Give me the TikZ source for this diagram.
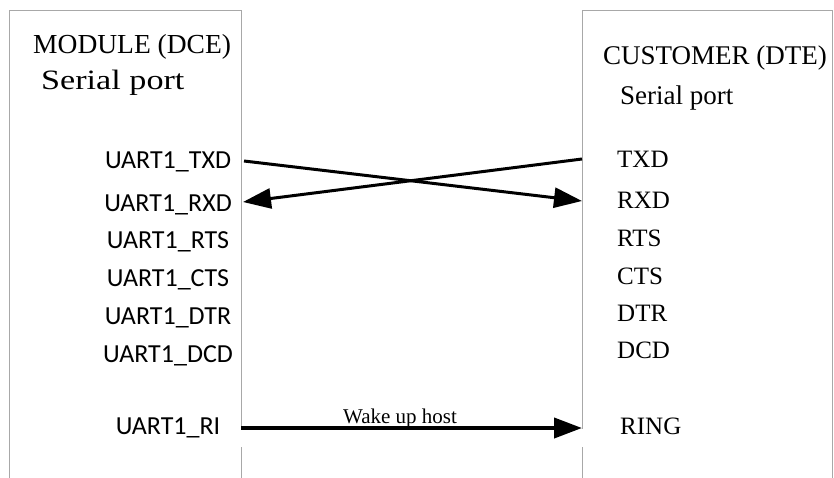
\documentclass[tikz,border=0pt]{standalone}
\usepackage{fontspec}
\setmainfont{Liberation Serif}
\newfontfamily\sansf{Carlito}
\usetikzlibrary{arrows.meta}
\definecolor{boxgray}{HTML}{A8A8A8}
\tikzset{
  boxline/.style={draw=boxgray, line width=1pt},
  titletext/.style={inner sep=0pt, anchor=base west, font=\fontsize{27.5}{30}\selectfont},
  lefttext/.style={inner sep=0pt, anchor=base, font=\sansf\fontsize{26}{28}\selectfont},
  righttext/.style={inner sep=0pt, anchor=base west, font=\fontsize{25}{28}\selectfont},
  sigarrow/.style={line width=3pt, -{Triangle[length=28pt,width=20pt]}},
}
\begin{document}
\begin{tikzpicture}[x=1pt,y=-1pt]
\useasboundingbox (0,0) rectangle (834,477);
% boxes (lines broken just below the wake-up arrow, as in the reference)
\draw[boxline] (241,429) -- (241,10) -- (9,10) -- (9,482);
\draw[boxline] (241,447) -- (241,482);
\draw[boxline] (582,429) -- (582,10) -- (832.5,10) -- (832.5,482);
\draw[boxline] (582,447) -- (582,482);
% titles
\node[titletext] (mtitle) at (33,53) {MODULE (DCE)};
\node[titletext, font=\fontsize{28}{30}\selectfont] (mser) at (41,89) {\scalebox{1.22}[1]{Serial port}};
\node[titletext, font=\fontsize{27}{30}\selectfont] (ctitle) at (603,64) {CUSTOMER (DTE)};
\node[titletext, font=\fontsize{27}{30}\selectfont] (cser) at (620,104) {Serial port};
% left labels
\node[lefttext] (lTXD) at (168,168) {UART1\_TXD};
\node[lefttext] (lRXD) at (168,211) {UART1\_RXD};
\node[lefttext] (lRTS) at (168,248) {UART1\_RTS};
\node[lefttext] (lCTS) at (168,286) {UART1\_CTS};
\node[lefttext] (lDTR) at (168,324) {UART1\_DTR};
\node[lefttext] (lDCD) at (168,362) {UART1\_DCD};
\node[lefttext] (lRI) at (168,434) {UART1\_RI};
% right labels
\node[righttext] (rTXD) at (617,167) {TXD};
\node[righttext] (rRXD) at (617,208) {RXD};
\node[righttext] (rRTS) at (617,246) {RTS};
\node[righttext] (rCTS) at (617,284) {CTS};
\node[righttext] (rDTR) at (617,321) {DTR};
\node[righttext] (rDCD) at (617,358) {DCD};
\node[righttext] (rRING) at (620,434) {RING};
% connector end points at the box edges
\coordinate (pTXDl) at (244,161);
\coordinate (pTXDr) at (582,201);
\coordinate (pRXDr) at (582,159);
\coordinate (pRXDl) at (243,202);
\coordinate (pRIl) at (241,428);
\coordinate (pRIr) at (582,428);
% connectors
\draw[sigarrow] (pTXDl) -- (pTXDr);
\draw[sigarrow] (pRXDr) -- (pRXDl);
\draw[sigarrow, line width=4pt] (pRIl) -- (pRIr);
\node[inner sep=0pt, anchor=base, font=\fontsize{21}{24}\selectfont] (wake) at (400,423) {Wake up host};
\end{tikzpicture}
\end{document}
